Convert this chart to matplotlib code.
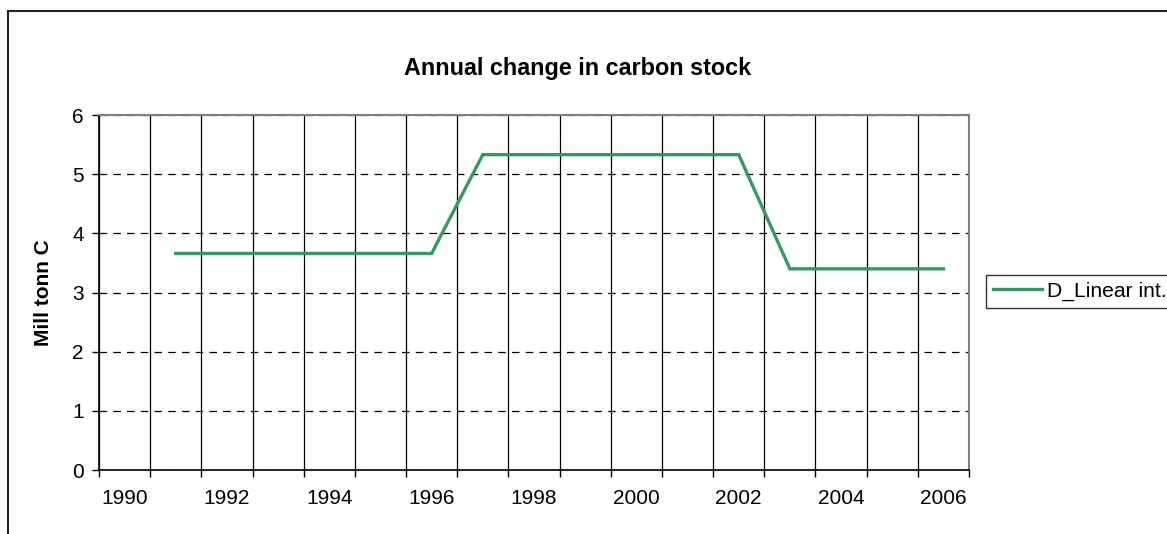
import numpy as np
import matplotlib.pyplot as plt
from matplotlib.patches import Rectangle

# Data (category axis, one point per year)
years = list(range(1990, 2007))
carbon_change = [np.nan,
                 3.66, 3.66, 3.66, 3.66, 3.66, 3.66,
                 5.33, 5.33, 5.33, 5.33, 5.33, 5.33,
                 3.40, 3.40, 3.40, 3.40]
series_name = "D_Linear int."
y_ticks = [0, 1, 2, 3, 4, 5, 6]

plt.rcParams['font.family'] = ['Liberation Sans', 'DejaVu Sans']

W, H = 1167, 534
fig = plt.figure(figsize=(W / 100, H / 100), dpi=100)

# plot area in pixel positions from the reference
left, right, top, bottom = 99, 969, 115, 470
ax = fig.add_axes([left / W, 1 - bottom / H, (right - left) / W, (bottom - top) / H])

pos = np.arange(len(years))
line, = ax.plot(pos, carbon_change, color='#339966', lw=2.4, solid_joinstyle='miter')

ax.set_xlim(-0.5, len(years) - 0.5)
ax.set_ylim(0, 6)
ax.set_yticks(y_ticks)

# category boundaries get the gridlines and tick marks, labels sit on the centres
ax.set_xticks(np.arange(len(years) + 1) - 0.5)
ax.set_xticklabels([])
ax.set_xticks(pos[::2], minor=True)
ax.set_xticklabels([str(y) for y in years[::2]], minor=True)
ax.tick_params(axis='x', which='major', length=5, width=1, color='black')
ax.tick_params(axis='x', which='minor', length=0, labelsize=15, pad=14)
ax.tick_params(axis='y', length=5, width=1, labelsize=15, pad=6)

ax.grid(axis='x', which='major', color='black', lw=0.9, ls='-')
ax.grid(axis='y', color='black', lw=0.9, ls=(0, (6, 5)))
ax.set_axisbelow(True)

for s in ['top', 'right']:
    ax.spines[s].set_color('#808080')
    ax.spines[s].set_linewidth(1.5)
for s in ['left', 'bottom']:
    ax.spines[s].set_color('black')
    ax.spines[s].set_linewidth(1.2)

ax.set_ylabel("Mill tonn C", fontsize=15, fontweight='bold', labelpad=14)
fig.text(578 / W, 1 - 69 / H, "Annual change in carbon stock", fontsize=16.8,
         fontweight='bold', ha='center', va='center')

leg = fig.legend([line], [series_name], loc='center left',
                 bbox_to_anchor=(986 / W, 1 - 291.5 / H), fontsize=15.2,
                 frameon=True, fancybox=False, borderaxespad=0, borderpad=0.33,
                 handlelength=2.3, handletextpad=0.25)
leg.get_frame().set_edgecolor('black')
leg.get_frame().set_linewidth(1.0)

# chart border, runs off the right and bottom edges
fig.patches.append(Rectangle((8 / W, -0.2), 1.3, 0.2 + 1 - 11 / H, transform=fig.transFigure,
                             fill=False, edgecolor='#222222', lw=1.5))

fig.savefig('out.png', dpi=100)
